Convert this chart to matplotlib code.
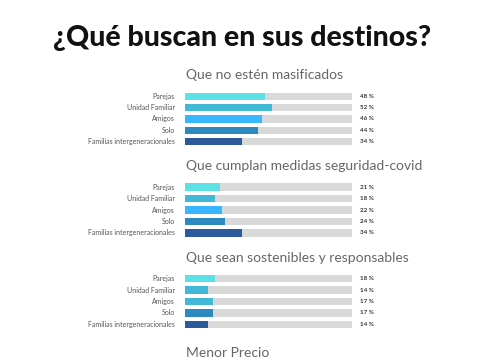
import matplotlib
matplotlib.use("Agg")
import matplotlib.pyplot as plt

# datos
categorias = ["Parejas", "Unidad Familiar", "Amigos", "Solo", "Familias intergeneracionales"]
titulos = ["Que no estén masificados",
           "Que cumplan medidas seguridad-covid",
           "Que sean sostenibles y responsables"]
masificados = [48, 52, 46, 44, 34]
covid = [21, 18, 22, 24, 34]
sostenibles = [18, 14, 17, 17, 14]
series = [masificados, covid, sostenibles]

colores = [
    ["#5ce1e6", "#41b8d5", "#38b6ff", "#2d89c0", "#2c5a9a"],
    ["#5ce1e6", "#41b8d5", "#38b6ff", "#2d89c0", "#2c5a9a"],
    ["#5ce1e6", "#41b8d5", "#41b8d5", "#2d89c0", "#2c5a9a"],
]
gris = "#d9d9d9"

W, H = 485, 360
fig = plt.figure(figsize=(W / 100, H / 100), dpi=100)
fig.patch.set_facecolor("white")

fig.text(242 / W, 1 - 38 / H, "¿Qué buscan en sus destinos?", ha="center", va="center",
         fontsize=20.5, fontweight="black", family="Lato", color="#111111")

# posiciones en pixeles (arriba, abajo) de cada bloque de barras
bloques = [(90.8, 147.2), (181.3, 238.7), (273.0, 330.0)]
titulo_y = [75, 166, 258]
x0, x1 = 185, 352

for k in range(3):
    top, bot = bloques[k]
    ax = fig.add_axes([x0 / W, 1 - bot / H, (x1 - x0) / W, (bot - top) / H])
    y = range(len(categorias))
    ax.barh(y, [100] * len(categorias), height=0.66, color=gris)
    ax.barh(y, series[k], height=0.66, color=colores[k])
    ax.set_xlim(0, 100)
    ax.set_ylim(4.5, -0.5)
    ax.axis("off")
    for i, (c, v) in enumerate(zip(categorias, series[k])):
        ax.text(-6, i, c, ha="right", va="center", fontsize=5, color="#555555", family="Lato")
        ax.text(104.5, i, f"{v} %", ha="left", va="center", fontsize=4.5,
                fontweight="bold", color="#333333", family="Lato")
    fig.text(186 / W, 1 - titulo_y[k] / H, titulos[k], ha="left", va="center",
             fontsize=10, fontweight="normal", family="Lato", color="#666666")

fig.text(186 / W, 1 - 353 / H, "Menor Precio", ha="left", va="center",
         fontsize=10, fontweight="normal", family="Lato", color="#666666")

fig.savefig("out.png", dpi=100, facecolor="white")
